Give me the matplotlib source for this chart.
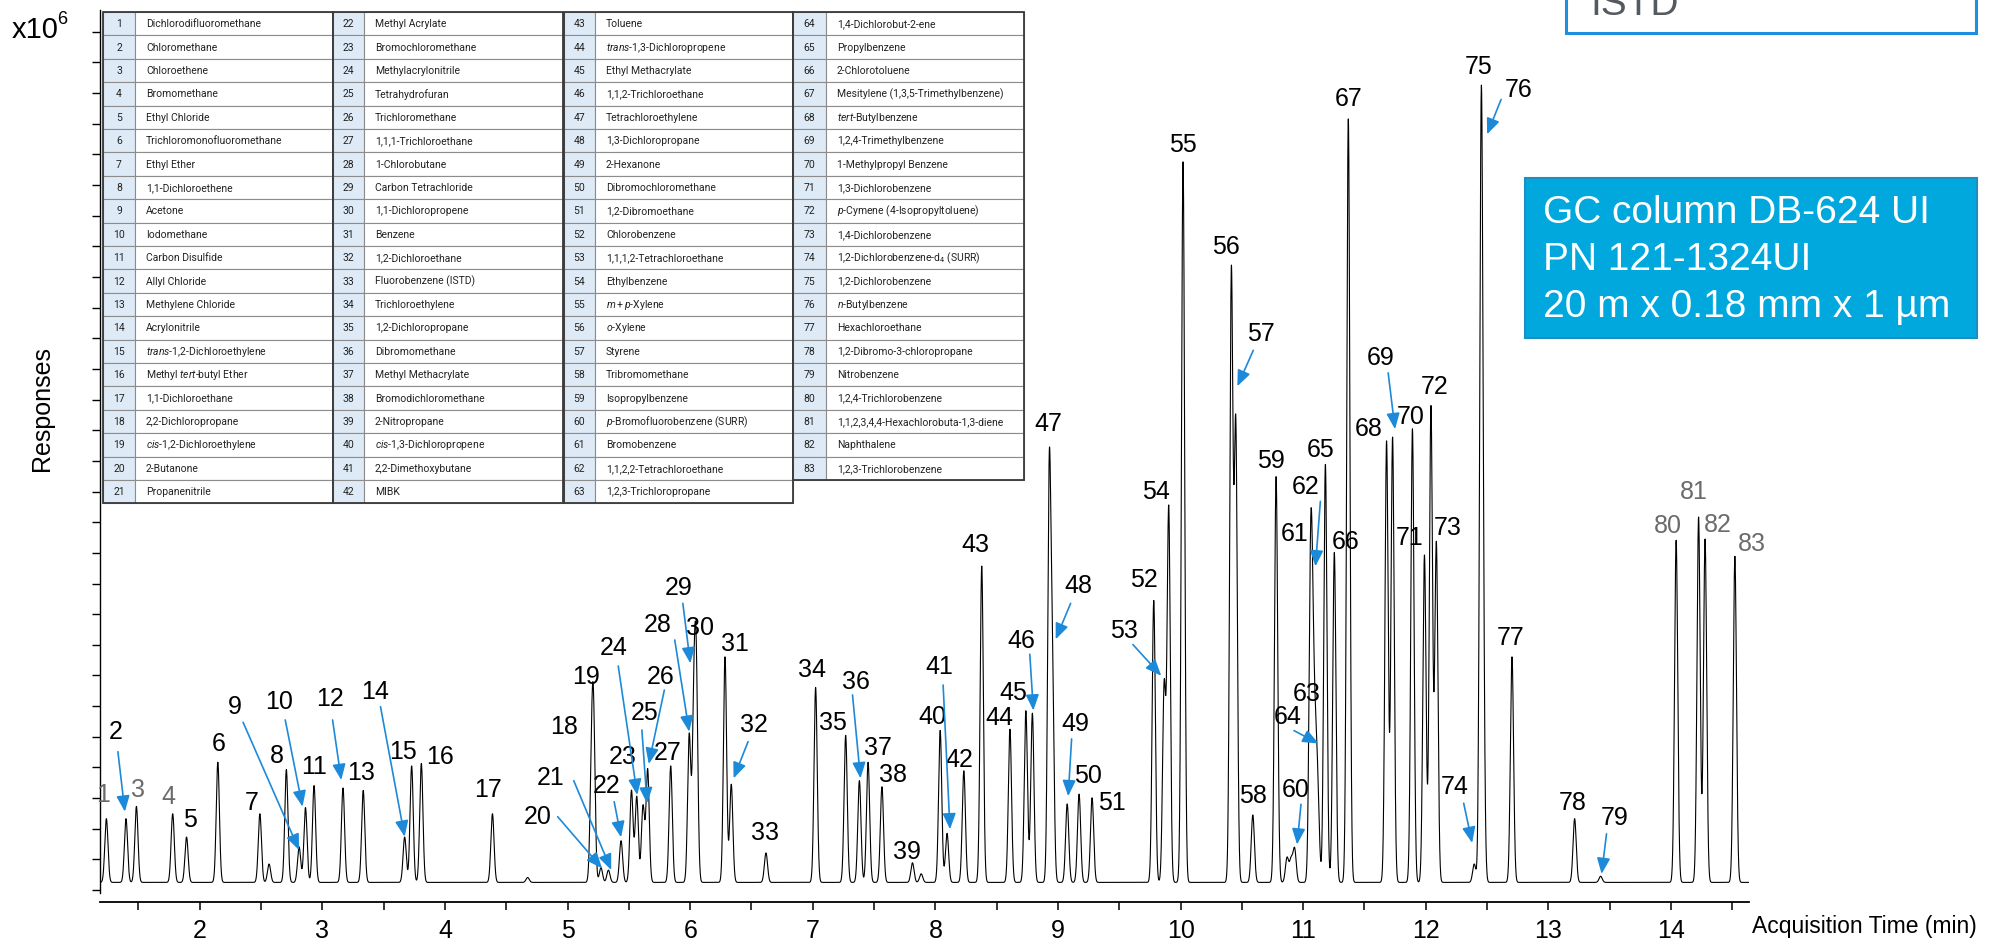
import numpy as np
import matplotlib
matplotlib.use('Agg')
import matplotlib.pyplot as plt
from matplotlib.patches import Rectangle

plt.rcParams['font.family'] = ['Liberation Sans', 'DejaVu Sans']
plt.rcParams['mathtext.fontset'] = 'custom'
plt.rcParams['mathtext.rm'] = 'Roboto'
plt.rcParams['mathtext.it'] = 'Roboto:italic'

# retention time (min) of compounds 1..83
rt = [1.238, 1.398, 1.483, 1.779, 1.892, 2.147, 2.490, 2.706, 2.810, 2.862,
      2.932, 3.168, 3.333, 3.671, 3.728, 3.807, 4.387, 5.195, 5.212, 5.272,
      5.333, 5.436, 5.521, 5.564, 5.615, 5.653, 5.841, 5.992, 6.030, 6.050,
      6.284, 6.335, 6.618, 7.023, 7.268, 7.380, 7.451, 7.564, 7.813, 8.039,
      8.095, 8.232, 8.378, 8.608, 8.738, 8.791, 8.929, 8.955, 9.075, 9.172,
      9.278, 9.781, 9.866, 9.903, 10.020, 10.414, 10.450, 10.589, 10.779, 10.930,
      11.060, 11.078, 11.100, 11.120, 11.181, 11.254, 11.368, 11.680, 11.729, 11.891,
      11.989, 12.042, 12.086, 12.395, 12.452, 12.468, 12.703, 13.214, 13.426, 14.042,
      14.225, 14.278, 14.521]
# peak height above baseline (x10^6)
height = [0.52, 0.52, 0.62, 0.56, 0.37, 0.98, 0.56, 0.92, 0.29, 0.61,
          0.79, 0.77, 0.75, 0.37, 0.95, 0.97, 0.56, 0.80, 1.20, 0.12,
          0.10, 0.34, 0.75, 0.70, 0.62, 0.92, 0.95, 1.20, 1.30, 1.55,
          1.84, 0.80, 0.24, 1.59, 1.20, 0.83, 0.98, 0.78, 0.16, 1.24,
          0.40, 0.91, 2.58, 1.25, 1.40, 1.38, 3.30, 1.60, 0.64, 0.72,
          0.69, 2.30, 1.60, 3.05, 5.88, 4.95, 3.70, 0.55, 3.31, 0.27,
          2.35, 1.40, 0.90, 0.60, 3.41, 2.69, 6.23, 3.60, 3.63, 3.70,
          2.67, 3.88, 2.77, 0.15, 5.90, 1.20, 1.84, 0.52, 0.05, 2.79,
          2.98, 2.80, 2.66]
# small unassigned bumps
minor_rt = [2.565, 4.674, 7.884, 10.868, 10.901]
minor_height = [0.15, 0.04, 0.07, 0.20, 0.18]
baseline = 0.062

names = [
    'Dichlorodifluoromethane', 'Chloromethane', 'Chloroethene', 'Bromomethane',
    'Ethyl Chloride', 'Trichloromonofluoromethane', 'Ethyl Ether', '1,1-Dichloroethene',
    'Acetone', 'Iodomethane', 'Carbon Disulfide', 'Allyl Chloride', 'Methylene Chloride',
    'Acrylonitrile', r'$\mathit{trans}$-1,2-Dichloroethylene',
    r'Methyl $\mathit{tert}$-butyl Ether', '1,1-Dichloroethane', '2,2-Dichloropropane',
    r'$\mathit{cis}$-1,2-Dichloroethylene', '2-Butanone', 'Propanenitrile',
    'Methyl Acrylate', 'Bromochloromethane', 'Methylacrylonitrile', 'Tetrahydrofuran',
    'Trichloromethane', '1,1,1-Trichloroethane', '1-Chlorobutane', 'Carbon Tetrachloride',
    '1,1-Dichloropropene', 'Benzene', '1,2-Dichloroethane', 'Fluorobenzene (ISTD)',
    'Trichloroethylene', '1,2-Dichloropropane', 'Dibromomethane', 'Methyl Methacrylate',
    'Bromodichloromethane', '2-Nitropropane', r'$\mathit{cis}$-1,3-Dichloropropene',
    '2,2-Dimethoxybutane', 'MIBK',
    'Toluene', r'$\mathit{trans}$-1,3-Dichloropropene', 'Ethyl Methacrylate',
    '1,1,2-Trichloroethane', 'Tetrachloroethylene', '1,3-Dichloropropane', '2-Hexanone',
    'Dibromochloromethane', '1,2-Dibromoethane', 'Chlorobenzene',
    '1,1,1,2-Tetrachloroethane', 'Ethylbenzene', r'$\mathit{m+p}$-Xylene',
    r'$\mathit{o}$-Xylene', 'Styrene', 'Tribromomethane', 'Isopropylbenzene',
    r'$\mathit{p}$-Bromofluorobenzene (SURR)', 'Bromobenzene', '1,1,2,2-Tetrachloroethane',
    '1,2,3-Trichloropropane',
    '1,4-Dichlorobut-2-ene', 'Propylbenzene', '2-Chlorotoluene',
    'Mesitylene (1,3,5-Trimethylbenzene)', r'$\mathit{tert}$-Butylbenzene',
    '1,2,4-Trimethylbenzene', '1-Methylpropyl Benzene', '1,3-Dichlorobenzene',
    r'$\mathit{p}$-Cymene (4-Isopropyltoluene)', '1,4-Dichlorobenzene',
    r'1,2-Dichlorobenzene-d$_4$ (SURR)', '1,2-Dichlorobenzene', r'$\mathit{n}$-Butylbenzene',
    'Hexachloroethane', '1,2-Dibromo-3-chloropropane', 'Nitrobenzene',
    '1,2,4-Trichlorobenzene', '1,1,2,3,4,4-Hexachlorobuta-1,3-diene', 'Naphthalene',
    '1,2,3-Trichlorobenzene']

gray_peaks = [1, 3, 4, 80, 81, 82, 83]

# peak number label placement (time, response)
label_xy = {
    1: (1.210, 0.775), 2: (1.318, 1.291), 3: (1.492, 0.816), 4: (1.742, 0.756),
    5: (1.920, 0.571), 6: (2.151, 1.188), 7: (2.424, 0.707), 8: (2.627, 1.093),
    9: (2.283, 1.495), 10: (2.650, 1.536), 11: (2.928, 1.006), 12: (3.059, 1.555),
    13: (3.318, 0.952), 14: (3.427, 1.618), 15: (3.657, 1.128), 16: (3.958, 1.082),
    17: (4.354, 0.816), 18: (4.975, 1.332), 19: (5.154, 1.740), 20: (4.754, 0.598),
    21: (4.862, 0.911), 22: (5.319, 0.851), 23: (5.446, 1.088), 24: (5.380, 1.971),
    25: (5.625, 1.441), 26: (5.756, 1.735), 27: (5.813, 1.120), 28: (5.733, 2.161),
    29: (5.907, 2.461), 30: (6.077, 2.134), 31: (6.368, 2.007), 32: (6.519, 1.346),
    33: (6.613, 0.462), 34: (6.990, 1.794), 35: (7.168, 1.365), 36: (7.352, 1.699),
    37: (7.531, 1.161), 38: (7.658, 0.938), 39: (7.766, 0.313), 40: (7.978, 1.408),
    41: (8.034, 1.816), 42: (8.199, 1.060), 43: (8.330, 2.814), 44: (8.518, 1.402),
    45: (8.633, 1.608), 46: (8.697, 2.032), 47: (8.921, 3.803), 48: (9.164, 2.483),
    49: (9.144, 1.355), 50: (9.245, 0.926), 51: (9.436, 0.712), 52: (9.704, 2.526),
    53: (9.542, 2.111), 54: (9.801, 3.243), 55: (10.020, 6.076), 56: (10.369, 5.246),
    57: (10.658, 4.537), 58: (10.589, 0.765), 59: (10.739, 3.497), 60: (10.942, 0.817),
    61: (10.930, 2.907), 62: (11.019, 3.287), 63: (11.025, 1.600), 64: (10.875, 1.410),
    65: (11.145, 3.585), 66: (11.343, 2.841), 67: (11.368, 6.448), 68: (11.538, 3.759),
    69: (11.628, 4.336), 70: (11.875, 3.855), 71: (11.871, 2.872), 72: (12.074, 4.100),
    73: (12.180, 2.950), 74: (12.236, 0.839), 75: (12.431, 6.710), 76: (12.756, 6.522),
    77: (12.695, 2.054), 78: (13.202, 0.712), 79: (13.539, 0.590), 80: (13.973, 2.972),
    81: (14.188, 3.243), 82: (14.379, 2.981), 83: (14.663, 2.819),
}

# pointer arrows: tail, head
arrows = {
    2: ((1.332, 1.128), (1.389, 0.639)),
    9: ((2.353, 1.368), (2.810, 0.326)),
    10: ((2.697, 1.387), (2.838, 0.680)),
    12: ((3.083, 1.387), (3.154, 0.897)),
    14: ((3.474, 1.495), (3.671, 0.435)),
    20: ((4.919, 0.598), (5.281, 0.177)),
    21: ((5.050, 0.892), (5.356, 0.163)),
    22: ((5.380, 0.720), (5.436, 0.430)),
    24: ((5.413, 1.827), (5.568, 0.775)),
    25: ((5.606, 1.305), (5.648, 0.707)),
    26: ((5.789, 1.631), (5.662, 1.028)),
    28: ((5.874, 2.039), (5.992, 1.291)),
    29: ((5.940, 2.338), (6.001, 1.849)),
    32: ((6.472, 1.210), (6.354, 0.911)),
    36: ((7.324, 1.591), (7.389, 0.911)),
    41: ((8.063, 1.672), (8.119, 0.495)),
    46: ((8.770, 1.923), (8.799, 1.464)),
    48: ((9.103, 2.338), (8.981, 2.045)),
    49: ((9.111, 1.232), (9.083, 0.765)),
    53: ((9.611, 2.002), (9.842, 1.748)),
    57: ((10.593, 4.402), (10.463, 4.109)),
    60: ((10.982, 0.699), (10.950, 0.371)),
    62: ((11.140, 3.170), (11.100, 2.640)),
    64: ((10.925, 1.300), (11.125, 1.195)),
    69: ((11.693, 4.218), (11.749, 3.759)),
    74: ((12.309, 0.708), (12.378, 0.384)),
    76: ((12.614, 6.448), (12.500, 6.164)),
    79: ((13.474, 0.458), (13.434, 0.131)),
}

blue = '#1c8ad9'
gray = '#6b6b6b'

# build trace from the peak table
t = np.arange(1.19, 14.64, 0.0008)
sig = 0.013
y = np.full_like(t, baseline)
for r, h in zip(rt + minor_rt, height + minor_height):
    y += h * np.exp(-0.5 * ((t - r) / sig) ** 2)

W, H = 2011, 941
fig = plt.figure(figsize=(W / 100, H / 100), dpi=100)
ax = fig.add_axes([100 / W, 48 / H, 1649 / W, 883 / H])
ax.plot(t, y, color='black', lw=0.8)
ax.set_xlim(1.186, 1.186 + 1649 / 122.6)
ax.set_ylim(-0.0245, 7.178)

for s in ['top', 'right']:
    ax.spines[s].set_visible(False)
ax.spines['bottom'].set_position(('outward', 6.5))
ax.spines['bottom'].set_linewidth(1.3)
ax.spines['left'].set_linewidth(1.0)
ax.set_xticks(np.arange(2, 15))
ax.set_xticks(np.arange(1.5, 15, 1.0), minor=True)
ax.tick_params(axis='x', which='both', direction='out', length=6, width=1.1,
               labelsize=18, pad=6)
ax.set_yticks(np.arange(0, 7.01, 0.25))
ax.tick_params(axis='y', direction='out', length=6, width=1.0, labelleft=False)

for n, (lx, ly) in label_xy.items():
    ax.text(lx, ly, str(n), ha='center', va='center', fontsize=18,
            color=gray if n in gray_peaks else 'black')
for n, (tail, head) in arrows.items():
    ax.annotate('', xy=head, xytext=tail,
                arrowprops=dict(arrowstyle='-|>,head_length=0.6,head_width=0.25',
                                color=blue, lw=1.2, shrinkA=0, shrinkB=0,
                                mutation_scale=16))

fig.text(42 / W, 1 - 408 / H, 'Responses', rotation=90, ha='center', va='center',
         fontsize=18)
fig.text(1752 / W, 1 - 927 / H, 'Acquisition Time (min)', ha='left', va='center',
         fontsize=16.5)
fig.text(12 / W, 1 - 30 / H, 'x10', ha='left', va='center', fontsize=21)
fig.text(57 / W, 1 - 20 / H, '6', ha='left', va='center', fontsize=13)

# overlay in pixel units for the compound table and boxes
ov = fig.add_axes([0, 0, 1, 1])
ov.set_xlim(0, W)
ov.set_ylim(H, 0)
ov.axis('off')

top, rh = 12, 23.4
groups = [(103, 135, 333), (333, 364, 563), (564, 595, 793), (793, 826, 1024)]
counts = [21, 21, 21, 20]
idx = 0
for (x0, x1, x2), cnt in zip(groups, counts):
    for r in range(cnt):
        yy = top + r * rh
        ov.add_patch(Rectangle((x0, yy), x1 - x0, rh, fc='#deebf7', ec='#8c8c8c', lw=0.8))
        ov.add_patch(Rectangle((x1, yy), x2 - x1, rh, fc='white', ec='#8c8c8c', lw=0.8))
        ov.text((x0 + x1) / 2, yy + rh / 2 + 0.5, str(idx + 1), ha='center', va='center',
                fontsize=7.5, family=['Roboto', 'DejaVu Sans'], color='#222222')
        ov.text(x1 + 11, yy + rh / 2 + 0.5, names[idx], ha='left', va='center',
                fontsize=7.5, family=['Roboto', 'DejaVu Sans'], color='#222222')
        idx += 1
    ov.add_patch(Rectangle((x0, top), x2 - x0, cnt * rh, fc='none', ec='#3a3a3a', lw=1.3))

# column description box
ov.add_patch(Rectangle((1525, 178), 452, 160, fc='#00a8de', ec='#1d8ec0', lw=1.5))
for i, line in enumerate(['GC column DB-624 UI', 'PN 121-1324UI', '20 m x 0.18 mm x 1 µm']):
    ov.text(1543, 213 + i * 47, line, ha='left', va='center', fontsize=28, color='white')

# legend box at the top right
ov.add_patch(Rectangle((1566, -20), 410, 53, fc='white', ec='#1e8fe0', lw=2.2))
ov.text(1590, 15, 'ISTD', ha='left', va='baseline', fontsize=28, color='#555a60')

fig.savefig('out.png', dpi=100)
